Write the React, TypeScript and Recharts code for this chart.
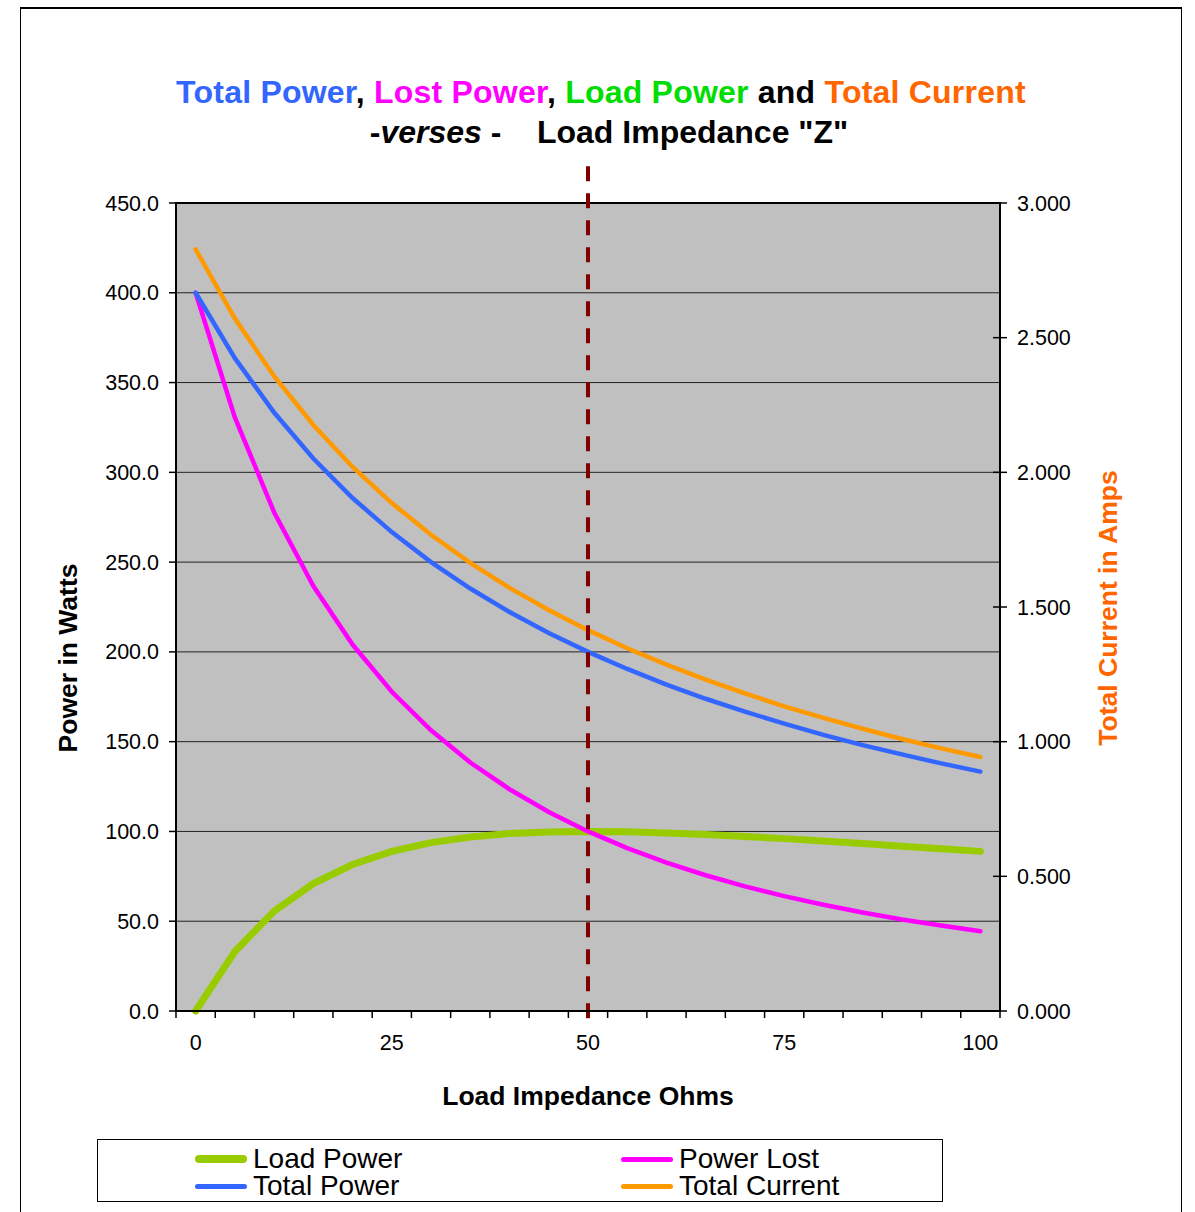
import { LineChart, Line, XAxis, YAxis, CartesianGrid, ReferenceLine, ReferenceArea, Legend } from "recharts"

// Load impedance sweep, 0..100 ohms in 5 ohm steps
const IMPEDANCE = [0, 5, 10, 15, 20, 25, 30, 35, 40, 45, 50, 55, 60, 65, 70, 75, 80, 85, 90, 95, 100]
const LOAD_POWER = [0, 33.1, 55.6, 71.0, 81.6, 88.9, 93.8, 96.9, 98.8, 99.7, 100.0, 99.8, 99.2, 98.3, 97.2, 96.0, 94.7, 93.3, 91.8, 90.4, 88.9]
const LOST_POWER = [400.0, 330.6, 277.8, 236.7, 204.1, 177.8, 156.3, 138.4, 123.5, 110.8, 100.0, 90.7, 82.6, 75.6, 69.4, 64.0, 59.2, 54.9, 51.0, 47.6, 44.4]
const TOTAL_POWER = [400.0, 363.6, 333.3, 307.7, 285.7, 266.7, 250.0, 235.3, 222.2, 210.5, 200.0, 190.5, 181.8, 173.9, 166.7, 160.0, 153.8, 148.1, 142.9, 137.9, 133.3]
const TOTAL_CURRENT = [2.828, 2.571, 2.357, 2.176, 2.020, 1.886, 1.768, 1.664, 1.571, 1.489, 1.414, 1.347, 1.286, 1.230, 1.179, 1.131, 1.088, 1.048, 1.010, 0.975, 0.943]

const POWER_TICKS = [0, 50, 100, 150, 200, 250, 300, 350, 400, 450]
const CURRENT_TICKS = [0, 0.5, 1, 1.5, 2, 2.5, 3]
const Z_LABELS = [0, 25, 50, 75, 100]
// tick marks sit between the categories
const Z_MARKS = [-2.5, 2.5, 7.5, 12.5, 17.5, 22.5, 27.5, 32.5, 37.5, 42.5, 47.5, 52.5, 57.5, 62.5, 67.5, 72.5, 77.5, 82.5, 87.5, 92.5, 97.5, 102.5]
const MATCHED_Z = 50
const LEGEND_ORDER = ["Load Power", "Power Lost", "Total Power", "Total Current"]

const data = IMPEDANCE.map((z, i) => ({
  z,
  load: LOAD_POWER[i],
  lost: LOST_POWER[i],
  total: TOTAL_POWER[i],
  current: TOTAL_CURRENT[i],
}))

const FONT = '"Liberation Sans", Arial, Helvetica, sans-serif'

function ZTick(props: any) {
  const { x, y, payload } = props
  const v = payload.value
  if (Z_LABELS.includes(v)) {
    return (
      <text x={x} y={y} dy={15} textAnchor="middle" fontSize={21.5} fill="#000" fontFamily={FONT}>
        {v}
      </text>
    )
  }
  return <line x1={x} x2={x} y1={y - 24} y2={y - 17} stroke="#000" strokeWidth={1.5} />
}

function PowerTick(props: any) {
  const { x, y, payload } = props
  return (
    <text x={x} y={y} dy="0.35em" textAnchor="end" fontSize={21.5} fill="#000" fontFamily={FONT}>
      {payload.value.toFixed(1)}
    </text>
  )
}

function CurrentTick(props: any) {
  const { x, y, payload } = props
  return (
    <g>
      <line x1={x - 24} x2={x - 10} y1={y} y2={y} stroke="#000" strokeWidth={1.5} />
      <text x={x} y={y} dy="0.35em" textAnchor="start" fontSize={21.5} fill="#000" fontFamily={FONT}>
        {payload.value.toFixed(3)}
      </text>
    </g>
  )
}

function LegendBox({ payload }: any) {
  const items = [...(payload ?? [])].sort(
    (a: any, b: any) => LEGEND_ORDER.indexOf(a.value) - LEGEND_ORDER.indexOf(b.value),
  )
  return (
    <div style={{
      width: 846, height: 63, boxSizing: "border-box", border: "1px solid #000",
      position: "relative", fontFamily: FONT, fontSize: 28, color: "#000",
    }}>
      {items.map((p: any, i: number) => {
        const col = i % 2
        const row = Math.floor(i / 2)
        const thick = p.value === "Load Power"
        return (
          <div key={p.value} style={{
            position: "absolute", left: col ? 523 : 97, top: row ? 33 : 6, height: 26,
            display: "flex", alignItems: "center", whiteSpace: "nowrap", lineHeight: "26px",
          }}>
            <span style={{
              display: "inline-block", width: 52, height: thick ? 8 : 5,
              borderRadius: 4, background: p.color, marginRight: 6,
            }} />
            {p.value}
          </div>
        )
      })}
    </div>
  )
}

export default function App() {
  return (
    <div style={{ position: "absolute", left: 0, top: 0, width: 1195, height: 1212, overflow: "hidden", background: "#fff" }}>
      <div style={{ position: "absolute", left: 20, top: 7, width: 1160, height: 1260, border: "1px solid #000", borderTopWidth: 2 }} />

      <div style={{
        position: "absolute", left: 0, top: 72, width: 1202, textAlign: "center",
        fontFamily: FONT, fontWeight: "bold", fontSize: 32, letterSpacing: 0.22, lineHeight: "40px", whiteSpace: "pre", color: "#000",
      }}>
        <div>
          <span style={{ color: "#3366FF" }}>Total Power</span>, <span style={{ color: "#FF00FF" }}>Lost Power</span>,{" "}
          <span style={{ color: "#00DD00" }}>Load Power</span> and <span style={{ color: "#FF6600" }}>Total Current</span>
        </div>
        <div style={{ paddingLeft: 16, letterSpacing: 0 }}>
          -<i>verses</i> -    Load Impedance "Z"
        </div>
      </div>

      <div style={{ position: "absolute", left: 0, top: 0 }}>
        <LineChart width={1195} height={1212} data={data} margin={{ top: 203, right: 115, bottom: 161, left: 96 }}>
          <CartesianGrid yAxisId="power" vertical={false} stroke="#222" strokeWidth={1} fill="#C0C0C0" fillOpacity={1} />
          <XAxis
            dataKey="z" type="number" domain={[-2.5, 102.5]} ticks={[...Z_MARKS, ...Z_LABELS].sort((a, b) => a - b)}
            interval={0} tick={<ZTick />} tickLine={false} tickSize={0} tickMargin={24} height={40}
            axisLine={{ stroke: "#000", strokeWidth: 2 }}
          />
          <YAxis
            yAxisId="power" domain={[0, 450]} ticks={POWER_TICKS} interval={0} width={80}
            tick={<PowerTick />} tickSize={7} tickMargin={10} tickLine={{ stroke: "#000", strokeWidth: 1.5 }}
            axisLine={{ stroke: "#000", strokeWidth: 2 }}
          />
          <YAxis
            yAxisId="current" orientation="right" domain={[0, 3]} ticks={CURRENT_TICKS} interval={0} width={80}
            tick={<CurrentTick />} tickSize={7} tickMargin={10} tickLine={false}
            axisLine={{ stroke: "#000", strokeWidth: 2 }}
          />
          <ReferenceArea yAxisId="power" x1={-2.5} x2={102.5} y1={0} y2={450} fill="none" stroke="#000" strokeWidth={2} />
          <Line yAxisId="power" type="linear" dataKey="load" name="Load Power" stroke="#99CC00" strokeWidth={7}
            strokeLinecap="round" dot={false} activeDot={false} isAnimationActive={false} />
          <Line yAxisId="power" type="linear" dataKey="lost" name="Power Lost" stroke="#FF00FF" strokeWidth={4.5}
            strokeLinecap="round" dot={false} activeDot={false} isAnimationActive={false} />
          <Line yAxisId="power" type="linear" dataKey="total" name="Total Power" stroke="#3366FF" strokeWidth={4.5}
            strokeLinecap="round" dot={false} activeDot={false} isAnimationActive={false} />
          <Line yAxisId="current" type="linear" dataKey="current" name="Total Current" stroke="#FF9900" strokeWidth={4.5}
            strokeLinecap="round" dot={false} activeDot={false} isAnimationActive={false} />
          <ReferenceLine
            yAxisId="power" segment={[{ x: MATCHED_Z, y: 470.5 }, { x: MATCHED_Z, y: -8 }]} ifOverflow="visible"
            stroke="#800000" strokeWidth={4} strokeDasharray="15 12"
          />
          <Legend
            layout="horizontal" verticalAlign="middle" align="center" content={<LegendBox />}
            wrapperStyle={{ position: "absolute", left: 97, top: 1139, width: 846, height: 63 }}
          />
        </LineChart>
      </div>

      <div style={{
        position: "absolute", left: 68, top: 658, transform: "translate(-50%, -50%) rotate(-90deg)",
        fontFamily: FONT, fontWeight: "bold", fontSize: 26.5, whiteSpace: "nowrap", color: "#000",
      }}>Power in Watts</div>
      <div style={{
        position: "absolute", left: 1108, top: 608, transform: "translate(-50%, -50%) rotate(-90deg)",
        fontFamily: FONT, fontWeight: "bold", fontSize: 26.5, whiteSpace: "nowrap", color: "#FF6600",
      }}>Total Current in Amps</div>
      <div style={{
        position: "absolute", left: 588, top: 1096, transform: "translate(-50%, -50%)",
        fontFamily: FONT, fontWeight: "bold", fontSize: 26.5, whiteSpace: "nowrap", color: "#000",
      }}>Load Impedance Ohms</div>
    </div>
  )
}
